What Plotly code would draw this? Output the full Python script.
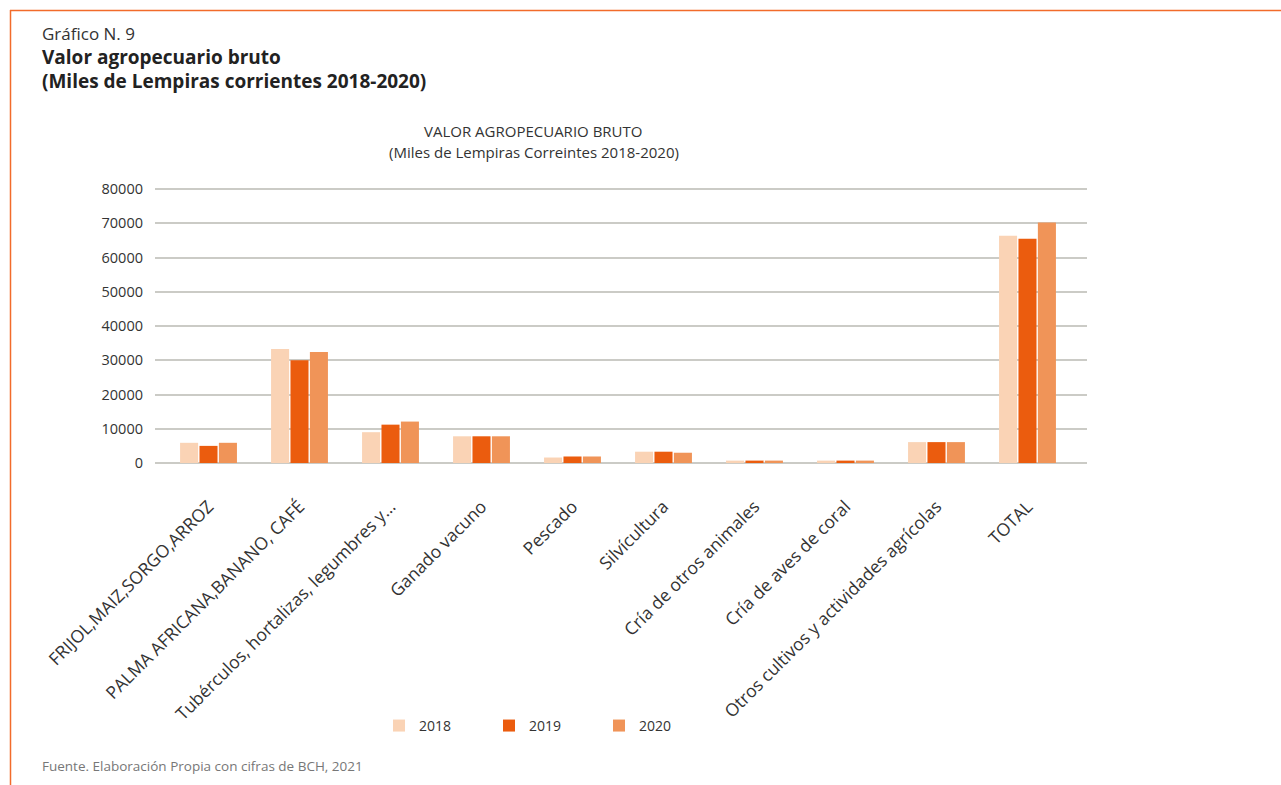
import plotly.graph_objects as go

categories = [
    "FRIJOL,MAIZ,SORGO,ARROZ",
    "PALMA AFRICANA,BANANO, CAFÉ",
    "Tubérculos, hortalizas, legumbres y…",
    "Ganado vacuno",
    "Pescado",
    "Silvícultura",
    "Cría de otros animales",
    "Cría de aves de coral",
    "Otros cultivos y actividades agrícolas",
    "TOTAL",
]
v2018 = [5900, 33300, 9000, 7800, 1600, 3300, 700, 700, 6100, 66400]
v2019 = [5000, 30000, 11200, 7800, 1900, 3300, 700, 700, 6100, 65500]
v2020 = [5900, 32400, 12100, 7800, 1900, 3000, 700, 700, 6100, 70200]
years = ["2018", "2019", "2020"]
colors = ["#fad3b5", "#eb5c0e", "#f09458"]
yticks = [0, 10000, 20000, 30000, 40000, 50000, 60000, 70000, 80000]

W, H = 1281, 785
YTOP = 80600
L, R, B = 155, 1087, 463
T = B - (B - 189) * YTOP / 80000


def px(x):
    return (x - L) / (R - L)


def py(y):
    return (B - y) / (B - T)


FONT = "Open Sans"

fig = go.Figure()
for name, vals, c in zip(years, [v2018, v2019, v2020], colors):
    fig.add_trace(go.Bar(x=categories, y=vals, name=name, marker_color=c,
                         marker_line_width=0))

fig.update_layout(
    width=W, height=H,
    margin=dict(l=L, r=W - R, t=T, b=H - B, pad=0),
    paper_bgcolor="white", plot_bgcolor="white",
    font=dict(family=FONT, color="#333333"),
    barmode="group", bargap=0.36, bargroupgap=0.07,
    showlegend=True,
    legend=dict(orientation="h", x=px(379), y=py(726), xanchor="left",
                yanchor="middle", font=dict(size=14, color="#333333"),
                entrywidth=65, entrywidthmode="pixels",
                itemwidth=30, bgcolor="rgba(0,0,0,0)"),
)
fig.update_xaxes(
    tickangle=-45, tickfont=dict(size=17.5, color="#333333"),
    showgrid=False, showline=False, ticks="", ticklabelstandoff=29,
    range=[-0.588, 9.654],
)
fig.update_yaxes(
    range=[0, YTOP], tickvals=yticks, ticktext=[str(v) for v in yticks],
    showgrid=True, gridcolor="#cbcbc6", gridwidth=2,
    zeroline=True, zerolinecolor="#cbcbc6", zerolinewidth=2,
    tickfont=dict(size=14.5, color="#333333"), ticks="", ticklabelstandoff=11,
    showline=False,
)

# Chart titles and notes
ann = [
    dict(text="Gráfico N. 9", x=px(40), y=py(33), size=17, color="#333333", anchor="left"),
    dict(text="<b>Valor agropecuario bruto</b>", x=px(40), y=py(57), size=19, color="#222222", anchor="left"),
    dict(text="<b>(Miles de Lempiras corrientes 2018-2020)</b>", x=px(40), y=py(81), size=19, color="#222222", anchor="left"),
    dict(text="VALOR AGROPECUARIO BRUTO", x=px(533), y=py(131), size=15, color="#333333", anchor="center"),
    dict(text="(Miles de Lempiras Correintes 2018-2020)", x=px(534), y=py(152), size=15, color="#333333", anchor="center"),
    dict(text="Fuente. Elaboración Propia con cifras de BCH, 2021", x=px(40), y=py(766), size=13.5, color="#777777", anchor="left"),
]
for a in ann:
    fig.add_annotation(text=a["text"], x=a["x"], y=a["y"], xref="paper", yref="paper",
                       xanchor=a["anchor"], yanchor="middle", showarrow=False,
                       font=dict(size=a["size"], color=a["color"], family=FONT))

# Orange frame
frame = "#f26b2b"
fig.add_shape(type="line", xref="paper", yref="paper", x0=px(10), x1=px(1281),
              y0=py(10.5), y1=py(10.5), line=dict(color=frame, width=1.5))
fig.add_shape(type="line", xref="paper", yref="paper", x0=px(10.5), x1=px(10.5),
              y0=py(10), y1=py(785), line=dict(color=frame, width=1.5))

fig.write_html("out.html")
